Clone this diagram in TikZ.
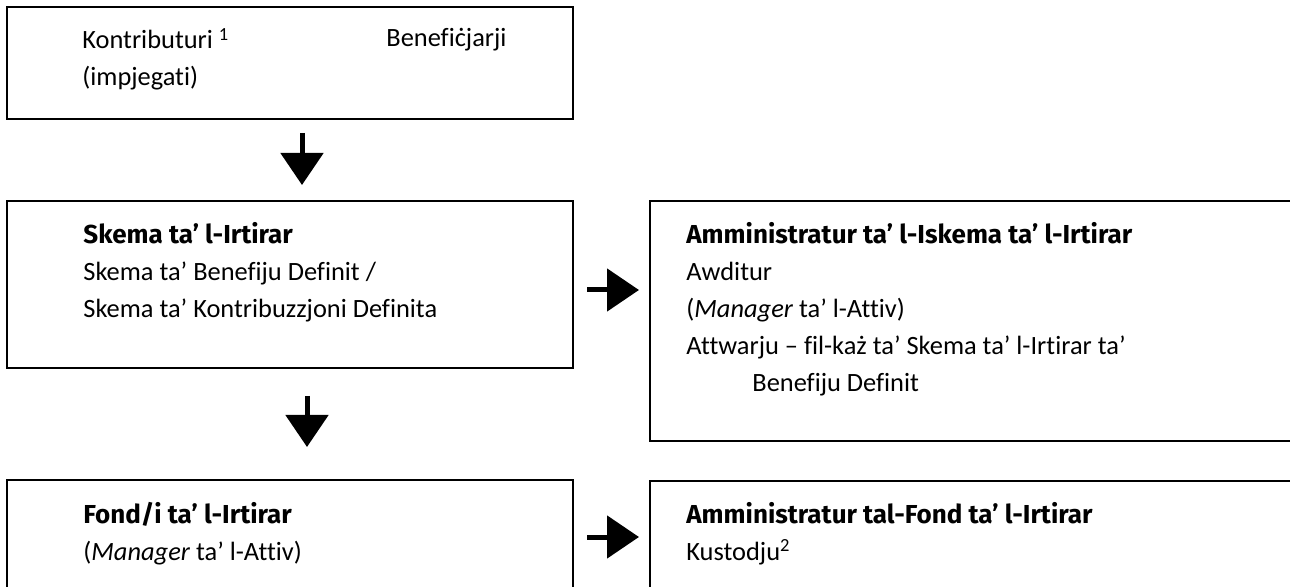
\documentclass[tikz,border=0pt]{standalone}
\usepackage{fontspec}
\setmainfont{Carlito}[Ligatures=NoCommon]
\newfontfamily\headfont{Fira Sans}[Ligatures=NoCommon]
\usetikzlibrary{arrows.meta, fit, positioning}

\newcommand{\headline}[1]{{\headfont\bfseries\fontsize{13}{18.5}\selectfont #1}}

\tikzset{
  box/.style={draw, line width=0.7pt, inner sep=0pt},
  txt/.style={anchor=north west, align=left, inner sep=0pt, font=\fontsize{13.2}{18.5}\selectfont},
  bigarrow/.style={line width=2.5pt, -{Triangle[width=21pt, length=16pt]}},
}

\begin{document}
\begin{tikzpicture}[x=0.5pt, y=-0.5pt]
    % page
    \useasboundingbox (0,0) rectangle (1290,587);
    \clip (0,0) rectangle (1290,587);

    % boxes
    \node[box, fit={(7,7) (573,119)}] (contrib) {};
    \node[box, fit={(7,201) (573,368)}] (scheme) {};
    \node[box, fit={(650,201) (1300,441)}] (schemeadmin) {};
    \node[box, fit={(7,480) (573,600)}] (fund) {};
    \node[box, fit={(650,481) (1300,600)}] (fundadmin) {};

    % texts
    \node[txt] (contribtxt) at (82,28) {Kontributuri \textsuperscript{1}\\(impjegati)};
    \node[txt] (benef) at (386,28) {Benefiċjarji};
    \node[txt] (schemetxt) at (83,222) {\headline{Skema ta’ l-Irtirar}\\
        Skema ta’ Benefiju Definit /\\
        Skema ta’ Kontribuzzjoni Definita};
    \node[txt] (schemeadmintxt) at (686,222) {\headline{Amministratur ta’ l-Iskema ta’ l-Irtirar}\\
        Awditur\\
        (\textit{Manager} ta’ l-Attiv)\\
        Attwarju – fil-każ ta’ Skema ta’ l-Irtirar ta’\\
        \hspace*{33pt}Benefiju Definit};
    \node[txt] (fundtxt) at (83,502) {\headline{Fond/i ta’ l-Irtirar}\\
        (\textit{Manager} ta’ l-Attiv)};
    \node[txt] (fundadmintxt) at (686,502) {\headline{Amministratur tal-Fond ta’ l-Irtirar}\\
        Kustodju\textsuperscript{2}};

    % arrows
    \coordinate (a1s) at (302,133);
    \coordinate (a1e) at (302,185);
    \coordinate (a2s) at (307,396);
    \coordinate (a2e) at (307,447);
    \coordinate (a3s) at (587,290);
    \coordinate (a3e) at (639,290);
    \coordinate (a4s) at (587,537);
    \coordinate (a4e) at (639,537);
    \draw[bigarrow] (a1s) -- (a1e);
    \draw[bigarrow] (a2s) -- (a2e);
    \draw[bigarrow] (a3s) -- (a3e);
    \draw[bigarrow] (a4s) -- (a4e);
\end{tikzpicture}
\end{document}
